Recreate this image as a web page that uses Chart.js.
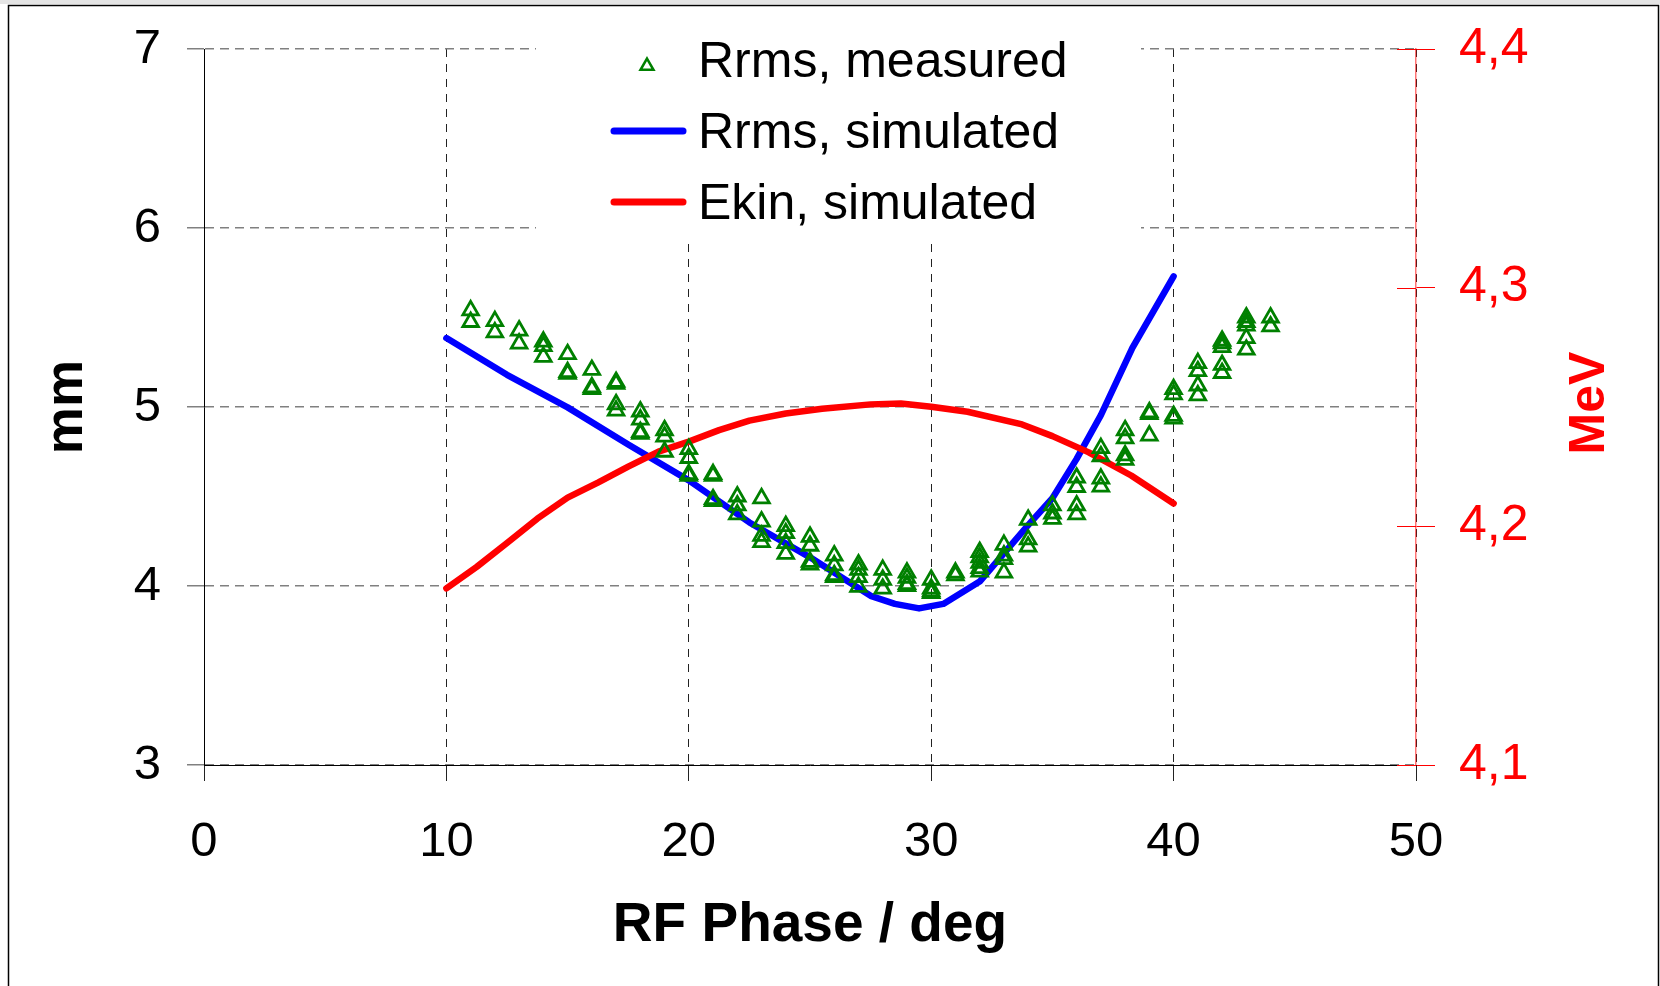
<!DOCTYPE html>
<html>
<head>
<meta charset="utf-8">
<title>Rrms and Ekin vs RF phase</title>
<script src="https://cdn.jsdelivr.net/npm/chart.js@4.4.1/dist/chart.umd.min.js"></script>
<style>
  html, body { margin: 0; padding: 0; background: #fff; }
  canvas { display: block; }
</style>
</head>
<body>
<canvas id="myChart" width="1660" height="986"></canvas>
<script>
const FONT = '"Liberation Sans", Arial, Helvetica, sans-serif';

// measured Rrms, several shots per phase setting (mm)
const measPhase = [11, 12, 13, 14, 15, 16, 17, 18, 19, 20, 21, 22, 23, 24, 25, 26, 27,
  28, 29, 30, 31, 32, 33, 34, 35, 36, 37, 38, 39, 40, 41, 42, 43, 44];
const measRrms = [
  [5.54, 5.475],
  [5.48, 5.417],
  [5.427, 5.354],
  [5.365, 5.34, 5.28],
  [5.295, 5.195, 5.185],
  [5.207, 5.11, 5.1],
  [5.14, 5.13, 5.015, 4.98],
  [4.975, 4.93, 4.86, 4.85],
  [4.87, 4.835, 4.75],
  [4.765, 4.715, 4.625, 4.615],
  [4.625, 4.615, 4.485, 4.475],
  [4.5, 4.45, 4.4],
  [4.49, 4.36, 4.28, 4.245],
  [4.335, 4.295, 4.24, 4.18],
  [4.275, 4.225, 4.135, 4.12],
  [4.17, 4.115, 4.06, 4.05],
  [4.12, 4.09, 4.05, 3.995],
  [4.09, 4.035, 3.985],
  [4.075, 4.045, 4.01, 4.0],
  [4.035, 3.985, 3.97, 3.96],
  [4.075, 4.06],
  [4.19, 4.16, 4.13, 4.1, 4.08],
  [4.23, 4.17, 4.15, 4.075],
  [4.37, 4.26, 4.22],
  [4.45, 4.405, 4.375],
  [4.605, 4.553, 4.45, 4.4],
  [4.77, 4.725, 4.6, 4.555],
  [4.87, 4.825, 4.73, 4.705],
  [4.97, 4.96, 4.84],
  [5.1, 5.07, 4.95, 4.935],
  [5.245, 5.2, 5.12, 5.065],
  [5.37, 5.355, 5.335, 5.235, 5.19],
  [5.5, 5.475, 5.455, 5.385, 5.32],
  [5.5, 5.45],
];

// simulated Rrms (mm)
const simPhaseR = [10, 12.5, 15, 17.5, 20, 22.5, 25, 27.5, 28.5, 29.5, 30.5, 32, 34, 35, 36, 37, 38.3, 40];
const simRrms = [5.385, 5.18, 4.998, 4.79, 4.59, 4.355, 4.16, 3.945, 3.9, 3.875, 3.9, 4.025, 4.34, 4.49, 4.71, 4.955, 5.33, 5.73];

// simulated kinetic energy (MeV)
const simPhaseE = [10, 11.25, 12.5, 13.75, 15, 16.25, 17.5, 18.75, 20, 21.25, 22.5, 24, 25.5, 27.5, 28.75, 30, 31.5, 33.75, 35, 36.5, 38.25, 40];
const simEkin = [4.174, 4.183, 4.193, 4.2032, 4.212, 4.2183, 4.225, 4.2313, 4.2355, 4.2403, 4.2443, 4.2473, 4.2493, 4.2511, 4.2515, 4.2501, 4.248, 4.2427, 4.2378, 4.231, 4.2213, 4.2096];

const xTicks = [0, 10, 20, 30, 40, 50];
const xTickLabels = ["0", "10", "20", "30", "40", "50"];
const yTicks = [3, 4, 5, 6, 7];
const yTickLabels = ["3", "4", "5", "6", "7"];
const y2Ticks = [4.1, 4.2, 4.3, 4.4];
const y2TickLabels = ["4,1", "4,2", "4,3", "4,4"];

const zip = (xs, ys) => xs.map((x, i) => ({ x, y: ys[i] }));
const measuredPoints = measPhase.flatMap((phase, i) =>
  measRrms[i].map((r) => ({ x: phase, y: r }))
);

const triangle = (ctx, x, y, r) => {
  ctx.beginPath();
  for (let k = 0; k < 3; k++) {
    const a = (k * 2 * Math.PI) / 3;
    const px = x + Math.sin(a) * r;
    const py = y - Math.cos(a) * r;
    if (k === 0) ctx.moveTo(px, py);
    else ctx.lineTo(px, py);
  }
  ctx.closePath();
  ctx.stroke();
};

// vertical axes would push the plot down by half a label, keep it at the padding
const noVertPadding = (s) => {
  s.paddingTop = 0;
  s.paddingBottom = 0;
};

// white page, grey strip and the black frame round the picture
const pageFrame = {
  id: "pageFrame",
  beforeDraw(chart) {
    const { ctx, width, height } = chart;
    ctx.save();
    ctx.fillStyle = "#fff";
    ctx.fillRect(0, 0, width, height);
    ctx.fillStyle = "#e4e4e4";
    ctx.fillRect(0, 0, width, 4);
    ctx.strokeStyle = "#000";
    ctx.lineWidth = 1.5;
    ctx.beginPath();
    ctx.moveTo(8.5, height + 2);
    ctx.lineTo(8.5, 5.5);
    ctx.lineTo(1658.5, 5.5);
    ctx.lineTo(1658.5, height + 2);
    ctx.stroke();
    ctx.restore();
  },
};

// legend sits inside the plot on a white box
const insideLegend = {
  id: "insideLegend",
  beforeDatasetsDraw(chart) {
    const { ctx } = chart;
    const ds = chart.data.datasets;
    ctx.save();
    ctx.fillStyle = "#fff";
    ctx.fillRect(536, 20, 605, 220);

    ctx.strokeStyle = ds[0].borderColor;
    ctx.lineWidth = 2.5;
    ctx.lineJoin = "miter";
    triangle(ctx, 647, 66, 7.5);

    ctx.lineCap = "round";
    ctx.lineWidth = 7;
    [ds[1], ds[2]].forEach((d, i) => {
      const y = 131 + i * 71;
      ctx.strokeStyle = d.borderColor;
      ctx.beginPath();
      ctx.moveTo(614, y);
      ctx.lineTo(683, y);
      ctx.stroke();
    });

    ctx.fillStyle = "#000";
    ctx.font = "50px " + FONT;
    ctx.textAlign = "left";
    ctx.textBaseline = "alphabetic";
    ds.forEach((d, i) => ctx.fillText(d.label, 698, 77 + i * 71));
    ctx.restore();
  },
};

// right axis: ticks crossing the axis line and the upright MeV title
const rightAxisExtras = {
  id: "rightAxisExtras",
  afterDraw(chart) {
    const { ctx } = chart;
    const s = chart.scales.y2;
    ctx.save();
    ctx.strokeStyle = "#ff0000";
    ctx.lineWidth = 1;
    s.ticks.forEach((t) => {
      const y = Math.round(s.getPixelForValue(t.value)) + 0.5;
      ctx.beginPath();
      ctx.moveTo(s.left - 19, y);
      ctx.lineTo(s.left, y);
      ctx.stroke();
    });
    ctx.translate(1604, 403);
    ctx.rotate(-Math.PI / 2);
    ctx.fillStyle = "#ff0000";
    ctx.font = "bold 50px " + FONT;
    ctx.textAlign = "center";
    ctx.textBaseline = "alphabetic";
    ctx.fillText("MeV", 0, 0);
    ctx.restore();
  },
};

const ctx = document.getElementById("myChart").getContext("2d");

new Chart(ctx, {
  type: "scatter",
  data: {
    datasets: [
      {
        label: "Rrms, measured",
        data: measuredPoints,
        yAxisID: "y",
        pointStyle: "triangle",
        pointRadius: 9,
        pointHoverRadius: 9,
        pointBorderWidth: 2.8,
        borderColor: "#008000",
        backgroundColor: "rgba(0,0,0,0)",
        order: 0,
      },
      {
        label: "Rrms, simulated",
        data: zip(simPhaseR, simRrms),
        yAxisID: "y",
        showLine: true,
        borderColor: "#0000ff",
        borderWidth: 6.5,
        borderCapStyle: "round",
        borderJoinStyle: "round",
        pointRadius: 0,
        tension: 0,
        order: 2,
      },
      {
        label: "Ekin, simulated",
        data: zip(simPhaseE, simEkin),
        yAxisID: "y2",
        showLine: true,
        borderColor: "#ff0000",
        borderWidth: 6.5,
        borderCapStyle: "round",
        borderJoinStyle: "round",
        pointRadius: 0,
        tension: 0,
        order: 1,
      },
    ],
  },
  options: {
    responsive: false,
    animation: false,
    devicePixelRatio: 1,
    events: [],
    layout: { padding: { top: 49, left: 0, right: 0, bottom: 0 } },
    plugins: {
      legend: { display: false },
      tooltip: { enabled: false },
    },
    scales: {
      x: {
        type: "linear",
        min: 0,
        max: 50,
        afterBuildTicks: (s) => { s.ticks = xTicks.map((v) => ({ value: v })); },
        afterFit: (s) => { s.height = 221; },
        grid: { color: "#222", lineWidth: 1, tickLength: 16, tickColor: "#222", tickWidth: 1 },
        border: { color: "#000", width: 1, dash: [8, 7] },
        ticks: {
          font: { family: FONT, size: 49 },
          color: "#000",
          padding: 32,
          maxRotation: 0,
          autoSkip: false,
          callback: (v, i) => xTickLabels[i],
        },
        title: {
          display: true,
          text: "RF Phase / deg",
          color: "#000",
          font: { family: FONT, size: 55, weight: "bold" },
          padding: { top: 0, bottom: 27 },
        },
      },
      y: {
        type: "linear",
        position: "left",
        min: 3,
        max: 7,
        afterBuildTicks: (s) => { s.ticks = yTicks.map((v) => ({ value: v })); },
        afterFit: (s) => { s.width = 204; noVertPadding(s); },
        grid: { color: "#808080", lineWidth: 1.5, tickLength: 17, tickColor: "#808080", tickWidth: 1.5 },
        border: { color: "#000", width: 1, dash: [9, 6] },
        ticks: {
          font: { family: FONT, size: 49 },
          color: "#000",
          padding: 26,
          callback: (v, i) => yTickLabels[i],
        },
        title: {
          display: true,
          text: "mm",
          color: "#000",
          font: { family: FONT, size: 53, weight: "bold" },
          padding: { top: 36, bottom: 0 },
        },
      },
      y2: {
        type: "linear",
        position: "right",
        min: 4.1,
        max: 4.4,
        afterBuildTicks: (s) => { s.ticks = y2Ticks.map((v) => ({ value: v })); },
        afterFit: (s) => { s.width = 244; noVertPadding(s); },
        grid: { drawOnChartArea: false, tickLength: 19, tickColor: "#ff0000", tickWidth: 1 },
        border: { color: "rgba(255,0,0,0.55)", width: 1.5 },
        ticks: {
          font: { family: FONT, size: 50 },
          color: "#ff0000",
          padding: 24,
          callback: (v, i) => y2TickLabels[i],
        },
      },
    },
  },
  plugins: [pageFrame, insideLegend, rightAxisExtras],
});
</script>
</body>
</html>
